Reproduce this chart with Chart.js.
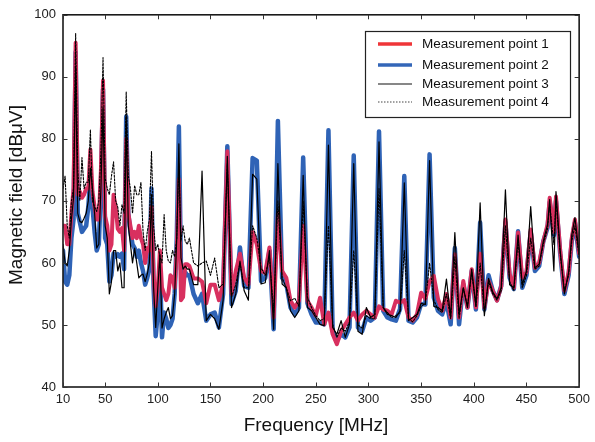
<!DOCTYPE html>
<html><head><meta charset="utf-8">
<script src="https://cdn.jsdelivr.net/npm/chart.js@4.4.1/dist/chart.umd.min.js"></script>
<style>html,body{margin:0;padding:0;background:#fff;}#wrap{width:595px;height:442px;}</style>
</head><body><div id="wrap"><canvas id="c" width="595" height="442"></canvas></div>
<script>
// Frequency grid [MHz]
const freqMHz = [10,12,14,16,18,20,22,24,26,28,30,32,34,36,38,40,42,44,46,48,50,52,54,56,58,60,62,64,66,68,70,72,74,76,78,80,82,84,86,88,90,92,94,96,98,100,102,104,106,108,110,112,114,116,118,120,122,124,126,128,130,
134,138,142,146,150,154,158,162,166,170,174,178,182,186,190,194,198,202,206,210,214,218,222,226,230,234,238,242,246,250,254,258,262,266,270,274,278,282,286,290,294,298,302,306,310,314,318,322,326,330,334,338,342,346,350,354,358,362,366,370,374,378,382,386,390,394,398,402,406,410,414,418,422,426,430,434,438,442,446,450,454,458,462,466,470,472,476,478,482,486,490,493,496,500];
// Magnetic field [dBuV], one array per measurement point
const point1 = [66,66,63,63,68,72,95.5,71,71.5,70.5,71,72,72,78.3,71.5,69,67,67,75,89.4,67.5,66,62,63,71,69,65.5,65,65.6,62,80,68,66,64,65,64,66,64,63,60,62.4,62,69,58,53,56,62,56,55,54,55,58,57.6,56,62,73.5,54,54.5,59.8,59.8,59.5,
57.5,57.5,57,53.5,56.5,56.5,54,56.6,78, 55,58.7,61.5,57.6,56.5,65,63,58.7,58.4,62.5, 51.2,68,58.7,57.6,53.9,52.8,53.9,66,53.9,52.8, 51.5,54.4,50.1,52,48.5,46.9,49,50.1,51.2,52, 50.7,51.7,52.3,51.7,51.2,53,52.5,52.3,51.7,53.9, 53.6,54,51.2,50.7,51.7,55.2,54.2,57,57.9,54.2, 52.3,55,51.2,61.4,51.2,57.1,52.8,59,52.8,61.5, 52.8,57.1,55.5,53.9,56.2,67,58.2,56,64.9,57.6, 58.5,65.4,59.2,60,63.5,66.2, 70.5,65,70.7,62,55.5,58.5,64,67,61.5];
const point2 = [62,57,56.5,58,64,67,94,68,66.5,65,65.5,66,69,74,69,65,62,63,72,88,64,63,57,58,61.5,61,61.4,61,61.5,59,83.6,68,65,63,62.4,61,62,60,58.7,56.5,57.6,59,72,56,48.2,52,59,48,52,51,49.5,50,51,55,64,82,59,57,58.5,58,58,
55,53.5,55,50.7,51.7,52,49.6,55,78.8, 53.4,55.5,62.5,56.3,56,76.9,76.5,57.1,57.6,62, 49.3,82.9,57.6,56.6,52.8,51.7,52.8,77,53.5,51.7, 50.4,50.4,50.1,81.4,49,47.5,48.5,48,49.6,77.3, 49.6,49,51.2,50.7,51.2,81.2,52.3,51.2,50.9,50.7, 52.6,74,50.7,50.4,51.2,53.4,53.3,77.5,54.4,52.3, 51.7,53.8,50.1,62.4,50.1,56.6,52.8,58.7,52.5,66.5, 52.5,58,55.5,54,56.3,66.5,57.6,55.8,65.1,56, 58,65,58.7,59.5,63.5,65.7, 69.8,64.5,70,61.5,55,58,63.5,66.5,61];
const point3 = [63,60,59.5,62,67,70.5,91.5,68,66.7,66.5,67.2,68,70,75.3,72,68,62.4,63,72,85,66,64,55,57,62,62,58.7,60,56,56,83.6,66,63,60,62.4,60,57.6,58,58.2,57,58.2,60,71,56,49.6,56,61.4,49.5,51,52,52.8,51,51.5,55,64,79.2,60.8,59,59.5,59,59,
56.5,56.5,74.8,50.7,51.7,51,49.3,54,77.2, 52.8,55,60.3,55.5,54,74.3,73.5,56.6,56.8,62, 49.3,76,56.6,56,52.3,51.2,52.3,74.1,52.8,52.3, 51.2,50.1,49.9,79,49.6,48.5,50.7,48,50.1,76, 49,48.5,52.8,51.2,51.7,79.5,52.8,51.7,51.5,51.2, 52.3,72.9,50.7,51.2,51.7,53.5,53.3,76.5,53,52.8, 52.3,57.4,51.2,64.9,51.7,56,52.8,59,53,69.7, 51.5,57.5,55.3,54.2,56,71.8,56.5,56,64.5,56.5, 58.7,69.1,59.2,59.8,63.5,66.2, 70.2,58.7,71.5,62,55,58.5,64.5,67.3,61.5];
const point4 = [72,74,66,64,70,72,97,75,70,77,72,73,73,81.5,70,69,68.3,70,78,93.1,73.7,72,71,74,76.3,70,69,66,69.4,68,87.6,74,72,68,72.5,71,71,73,65,62,65,67,78,66,62,63,61,60,67.8,62,60.3,60,62,61,64,76,63.5,66,63.5,63,64,
60,59.5,60,60.3,58,60.8,56,56.6,76, 54.5,56.5,60,56,56,66,64,59.2,58,61, 52,70,57.6,56,53.9,54.3,53,70,54.5,52.8, 51.5,50.7,51,66,50.1,48,49.5,49,50.5,62, 50,49.5,51.5,51,51,72,52.8,52,51.2,51.5, 52,62,51,50.5,51.5,53,53.5,60,54,52.5, 52,55,51,61,51,56,53,58.5,53,60, 52,57,55,54,55.5,66,57,55.5,63.5,56, 58,64,59,59.5,63,65.5, 69.5,63,70,61.5,55.5,58,63.5,66,61];
const seriesLabels = ['Measurement point 1','Measurement point 2','Measurement point 3','Measurement point 4'];
const xTicks = [10,50,100,150,200,250,300,350,400,450,500];
const yTicks = [40,50,60,70,80,90,100];
const xTitle = 'Frequency [MHz]';
const yTitle = 'Magnetic field [dB\u03bcV]';

const FONT = "'Liberation Sans', Arial, Helvetica, sans-serif";
const toXY = arr => arr.map((v,i)=>({x:freqMHz[i], y:v}));

const legendStyles = [
  {color:'#ef3538', width:3.5, dash:[]},
  {color:'#3366b8', width:3.5, dash:[]},
  {color:'#111111', width:1.2, dash:[]},
  {color:'#444444', width:1.2, dash:[1.5,1.5]}
];

const framePlugin = {
  id:'frame',
  afterDatasetsDraw(chart){
    const {ctx, chartArea:a, scales:{x,y}} = chart;
    ctx.save();
    ctx.strokeStyle='#1a1a1a'; ctx.lineWidth=1.6;
    ctx.strokeRect(a.left, a.top, a.right-a.left, a.bottom-a.top);
    ctx.lineWidth=1; ctx.strokeStyle='#333';
    const L=4.5;
    xTicks.forEach(v=>{
      const px=Math.round(x.getPixelForValue(v))+0.5;
      ctx.beginPath(); ctx.moveTo(px,a.bottom); ctx.lineTo(px,a.bottom-L);
      ctx.moveTo(px,a.top); ctx.lineTo(px,a.top+L); ctx.stroke();
    });
    yTicks.forEach(v=>{
      const py=Math.round(y.getPixelForValue(v))+0.5;
      ctx.beginPath(); ctx.moveTo(a.left,py); ctx.lineTo(a.left+L,py);
      ctx.moveTo(a.right,py); ctx.lineTo(a.right-L,py); ctx.stroke();
    });
    // axis titles
    ctx.fillStyle='#111'; ctx.font='19px '+FONT; ctx.textAlign='center'; ctx.textBaseline='middle';
    ctx.fillText(xTitle, 316, 426);
    ctx.translate(17, 195); ctx.rotate(-Math.PI/2);
    ctx.fillText(yTitle, 0, 0);
    ctx.restore();
  }
};

const legendPlugin = {
  id:'boxLegend',
  afterDraw(chart){
    const ctx=chart.ctx;
    const bx=365.5, by=31.5, bw=205, bh=86;
    ctx.save();
    ctx.fillStyle='#fff'; ctx.fillRect(bx,by,bw,bh);
    ctx.strokeStyle='#222'; ctx.lineWidth=1.2; ctx.strokeRect(bx,by,bw,bh);
    const rows=[44,65,84,102];
    ctx.font="13.5px "+FONT; ctx.fillStyle='#111'; ctx.textBaseline='middle';
    seriesLabels.forEach((lab,i)=>{
      const s=legendStyles[i];
      ctx.beginPath(); ctx.strokeStyle=s.color; ctx.lineWidth=s.width; ctx.setLineDash(s.dash);
      ctx.moveTo(378,rows[i]); ctx.lineTo(412,rows[i]); ctx.stroke();
      ctx.setLineDash([]);
      ctx.fillText(lab, 422, rows[i]);
    });
    ctx.restore();
  }
};

new Chart(document.getElementById('c'), {
  type:'line',
  data:{
    datasets:[
      {label:seriesLabels[0], data:toXY(point1), borderColor:'#d8305f', borderWidth:4, order:2},
      {label:seriesLabels[1], data:toXY(point2), borderColor:'#2f63b6', borderWidth:4.5, order:3},
      {label:seriesLabels[2], data:toXY(point3), borderColor:'#000000', borderWidth:1.2, order:1},
      {label:seriesLabels[3], data:toXY(point4), borderColor:'#000000', borderWidth:1.1, borderDash:[2,1.5], order:0}
    ]
  },
  options:{
    responsive:false, animation:false, devicePixelRatio:1,
    layout:{padding:{left:0,right:12,top:13,bottom:0}},
    elements:{point:{radius:0}, line:{tension:0, fill:false, borderJoinStyle:'round', borderCapStyle:'round'}},
    plugins:{legend:{display:false}, tooltip:{enabled:false}},
    scales:{
      x:{type:'linear', min:10, max:500,
        afterBuildTicks(s){ s.ticks = xTicks.map(v=>({value:v})); },
        afterFit(s){ s.height = 55; },
        grid:{display:false, drawTicks:false}, border:{display:false},
        ticks:{padding:5, color:'#222', font:{family:FONT, size:13}, maxRotation:0, autoSkip:false},
        title:{display:false}
      },
      y:{type:'linear', min:40, max:100,
        afterBuildTicks(s){ s.ticks = yTicks.map(v=>({value:v})); },
        afterFit(s){ s.width = 63; },
        grid:{display:false, drawTicks:false}, border:{display:false},
        ticks:{padding:7, color:'#222', font:{family:FONT, size:13}},
        title:{display:false}
      }
    }
  },
  plugins:[framePlugin, legendPlugin]
});
</script></body></html>
